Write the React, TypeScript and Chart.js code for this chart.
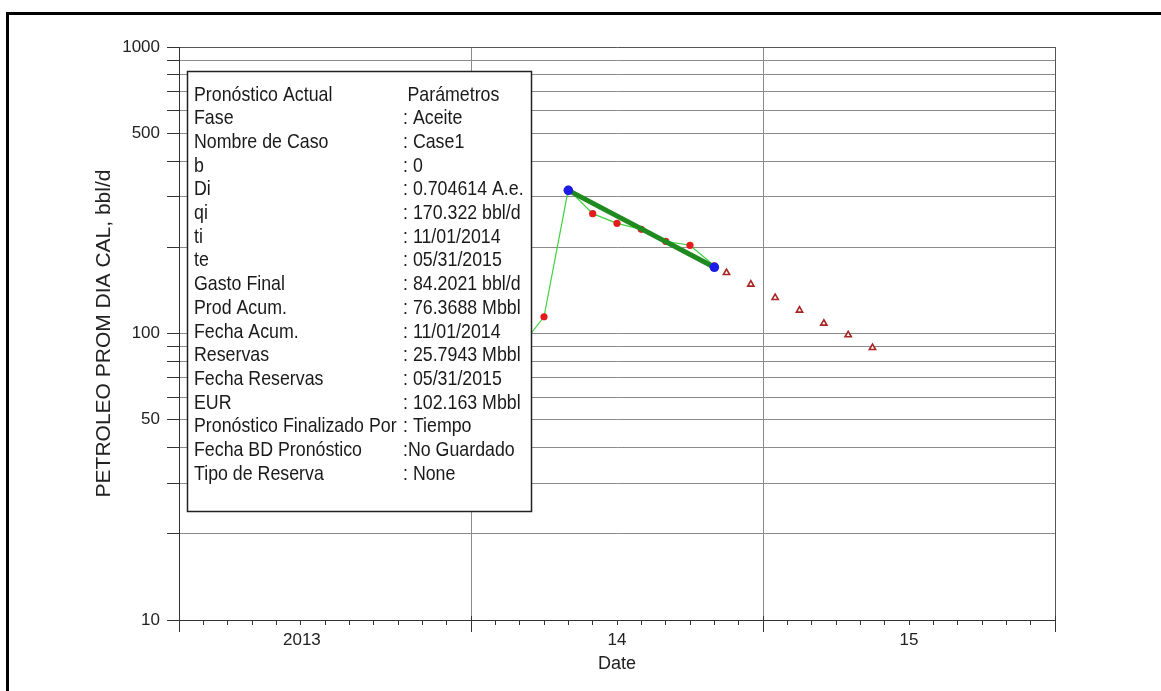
import React, { useEffect, useRef } from 'react';
import { Chart, registerables } from 'chart.js';

Chart.register(...registerables);

// x values are months counted from Jan 1 2013 (0) to Jan 1 2016 (36)
const historyMonths = [14, 15, 16, 17, 18, 19, 20, 21, 22];
const historyRate = [89, 114.4, 318.7, 262, 242.4, 231, 209.8, 203.2, 172.4];

const fitMonths = [16, 22];
const fitRate = [316, 170.322];

const forecastMonths = [22.5, 23.5, 24.5, 25.5, 26.5, 27.5, 28.5];
const forecastRate = [163, 148.5, 133.4, 120.5, 108.5, 98.8, 89.2];

const yGridValues = [10, 20, 30, 40, 50, 60, 70, 80, 90, 100, 200, 300, 400, 500, 600, 700, 800, 900, 1000];
const yLabelValues = [10, 50, 100, 500, 1000];

const xMonthTicks = Array.from({ length: 37 }, (_, i) => i);
const xYearLabelMonths = [5.05, 18, 30];
const xYearLabels = ['2013', '14', '15'];
const xMajorMonths = [0, 12, 24, 36];

const infoLabels = [
  'Pronóstico Actual', 'Fase', 'Nombre de Caso', 'b', 'Di', 'qi', 'ti', 'te',
  'Gasto Final', 'Prod Acum.', 'Fecha Acum.', 'Reservas', 'Fecha Reservas', 'EUR',
  'Pronóstico Finalizado Por', 'Fecha BD Pronóstico', 'Tipo de Reserva',
];
const infoValues = [
  'Parámetros', ': Aceite', ': Case1', ': 0', ': 0.704614 A.e.', ': 170.322 bbl/d',
  ': 11/01/2014', ': 05/31/2015', ': 84.2021 bbl/d', ': 76.3688 Mbbl', ': 11/01/2014',
  ': 25.7943 Mbbl', ': 05/31/2015', ': 102.163 Mbbl', ': Tiempo', ':No Guardado', ': None',
];

const FONT = '"Liberation Sans", Arial, sans-serif';

function drawTallText(ctx: CanvasRenderingContext2D, text: string, x: number, y: number) {
  ctx.save();
  ctx.translate(x, y);
  ctx.scale(1, 1.1);
  ctx.fillText(text, 0, 0);
  ctx.restore();
}

// Parameter panel drawn over the plot area
const infoBoxPlugin = {
  id: 'infoBox',
  afterDatasetsDraw(chart: any) {
    const { ctx, chartArea } = chart;
    const x0 = chartArea.left + 8.5;
    const y0 = chartArea.top + 24.5;
    const w = 344;
    const h = 440;
    ctx.save();
    ctx.fillStyle = '#ffffff';
    ctx.fillRect(x0, y0, w, h);
    ctx.strokeStyle = '#222222';
    ctx.lineWidth = 1.5;
    ctx.strokeRect(x0, y0, w, h);
    ctx.fillStyle = '#1a1a1a';
    ctx.font = `17.8px ${FONT}`;
    ctx.textBaseline = 'alphabetic';
    ctx.textAlign = 'left';
    infoLabels.forEach((label, i) => {
      const by = y0 + 29 + i * 23.7;
      drawTallText(ctx, label, x0 + 6.5, by);
      drawTallText(ctx, infoValues[i], x0 + (i === 0 ? 220 : 215.5), by);
    });
    ctx.restore();
  },
};

// Longer tick marks at the year boundaries
const yearTickPlugin = {
  id: 'yearTicks',
  afterDraw(chart: any) {
    const { ctx, chartArea } = chart;
    const xs = chart.scales.x;
    ctx.save();
    ctx.strokeStyle = '#333333';
    ctx.lineWidth = 1;
    xMajorMonths.forEach((m) => {
      const px = Math.round(xs.getPixelForValue(m)) + 0.5;
      ctx.beginPath();
      ctx.moveTo(px, chartArea.bottom - 4);
      ctx.lineTo(px, chartArea.bottom + 12);
      ctx.stroke();
    });
    ctx.restore();
  },
};

export default function App() {
  const canvasRef = useRef<HTMLCanvasElement | null>(null);

  useEffect(() => {
    if (!canvasRef.current) return;
    Chart.defaults.font.family = FONT;

    const chart = new Chart(canvasRef.current, {
      type: 'scatter',
      data: {
        datasets: [
          {
            label: 'Extremos',
            data: fitMonths.map((m, i) => ({ x: m, y: fitRate[i] })),
            showLine: false,
            pointRadius: 4.8,
            pointBackgroundColor: '#1c1ce6',
            pointBorderColor: '#1c1ce6',
            pointBorderWidth: 0,
          },
          {
            label: 'Ajuste',
            data: fitMonths.map((m, i) => ({ x: m, y: fitRate[i] })),
            showLine: true,
            borderColor: '#1f8a1f',
            borderWidth: 5,
            pointRadius: 0,
          },
          {
            label: 'Pronóstico',
            data: forecastMonths.map((m, i) => ({ x: m, y: forecastRate[i] })),
            showLine: false,
            pointStyle: 'triangle',
            pointRadius: 3.6,
            pointBackgroundColor: '#ffffff',
            pointBorderColor: '#a82424',
            pointBorderWidth: 1.6,
          },
          {
            label: 'Histórico',
            data: historyMonths.map((m, i) => ({ x: m, y: historyRate[i] })),
            showLine: true,
            borderColor: '#3fd23f',
            borderWidth: 1.2,
            pointRadius: 3.6,
            pointBackgroundColor: '#e31c1c',
            pointBorderColor: '#e31c1c',
            pointBorderWidth: 0,
          },
        ],
      },
      options: {
        responsive: false,
        animation: false,
        devicePixelRatio: 1,
        layout: { padding: { left: 0, top: 47, right: 106, bottom: 0 } },
        plugins: {
          legend: { display: false },
          tooltip: { enabled: false },
        },
        scales: {
          x: {
            type: 'linear',
            min: 0,
            max: 36,
            afterBuildTicks: (scale: any) => {
              const vals = [...xMonthTicks, ...xYearLabelMonths.filter((v) => !xMonthTicks.includes(v))];
              vals.sort((a, b) => a - b);
              scale.ticks = vals.map((v) => ({ value: v }));
            },
            afterFit: (scale: any) => {
              scale.height = 71;
            },
            ticks: {
              autoSkip: false,
              maxRotation: 0,
              minRotation: 0,
              padding: 5,
              color: '#222222',
              font: { size: 17 },
              callback: (value: any) => {
                const idx = xYearLabelMonths.indexOf(Number(value));
                return idx >= 0 ? xYearLabels[idx] : '';
              },
            },
            grid: {
              color: (ctx: any) => {
                const v = ctx.tick ? ctx.tick.value : -1;
                if (v === 36) return '#555555';
                return v === 12 || v === 24 ? '#8a8a8a' : 'rgba(0,0,0,0)';
              },
              tickColor: (ctx: any) => {
                const v = ctx.tick ? ctx.tick.value : -1;
                return Number.isInteger(v) ? '#333333' : 'rgba(0,0,0,0)';
              },
              tickLength: 5,
              lineWidth: 1,
            },
            border: { color: '#333333', width: 1 },
            title: {
              display: true,
              text: 'Date',
              color: '#222222',
              font: { size: 18 },
              padding: { top: 0, bottom: 16.5 },
            },
          },
          y: {
            type: 'logarithmic',
            min: 10,
            max: 1000,
            afterBuildTicks: (scale: any) => {
              scale.ticks = yGridValues.map((v) => ({ value: v }));
            },
            afterFit: (scale: any) => {
              scale.width = 179;
            },
            ticks: {
              autoSkip: false,
              padding: 7,
              color: '#222222',
              font: { size: 17 },
              callback: (value: any) => (yLabelValues.includes(Number(value)) ? String(value) : ''),
            },
            grid: {
              color: (ctx: any) => (ctx.tick && ctx.tick.value === 1000 ? '#555555' : '#8a8a8a'),
              tickColor: '#333333',
              tickLength: 12,
              lineWidth: 1,
            },
            border: { color: '#333333', width: 1 },
            title: {
              display: true,
              text: 'PETROLEO PROM DIA CAL, bbl/d',
              color: '#222222',
              font: { size: 21 },
              padding: { top: 92, bottom: 0 },
            },
          },
        },
      } as any,
      plugins: [infoBoxPlugin, yearTickPlugin],
    });

    return () => {
      chart.destroy();
    };
  }, []);

  return (
    <div
      style={{
        position: 'fixed',
        left: 0,
        top: 0,
        width: 1161,
        height: 691,
        background: '#ffffff',
        overflow: 'hidden',
      }}
    >
      <canvas ref={canvasRef} width={1161} height={691} style={{ display: 'block', width: 1161, height: 691 }} />
      <div
        style={{
          position: 'absolute',
          left: 6,
          top: 12,
          width: 2000,
          height: 2000,
          borderLeft: '3px solid #000000',
          borderTop: '3px solid #000000',
          pointerEvents: 'none',
        }}
      />
    </div>
  );
}
